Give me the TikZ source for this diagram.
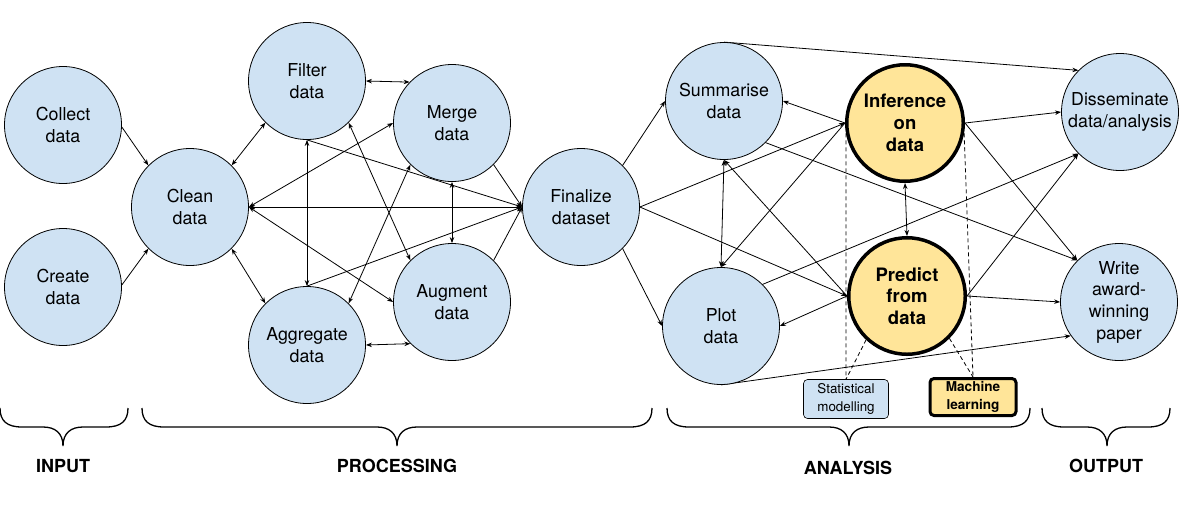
\documentclass[tikz,border=0pt]{standalone}
\usepackage{fontspec}
\setmainfont{TeX Gyre Heros}
\usetikzlibrary{arrows.meta,backgrounds}
\definecolor{nodeblue}{HTML}{CFE2F3}
\definecolor{nodeyellow}{HTML}{FFE599}
\newcommand\mybrace[3]{\draw[brc] (#1,408) .. controls (#1,421) and ({#1+7},427) .. ({#1+22},427) -- ({#2-20},427) .. controls ({#2-8},427) and (#2,433) .. (#2,446) .. controls (#2,433) and ({#2+8},427) .. ({#2+20},427) -- ({#3-22},427) .. controls ({#3-7},427) and (#3,421) .. (#3,408);}
\begin{document}
\begin{tikzpicture}[x=1pt,y=-1pt,
  >={Stealth[length=6pt,width=4.5pt]},
  bcirc/.style={circle, draw=black, line width=0.8pt, fill=nodeblue, minimum size=117pt, inner sep=0pt, align=center, font=\fontsize{17.8}{21.7}\selectfont},
  ycirc/.style={circle, draw=black, line width=3.5pt, fill=nodeyellow, minimum size=116.5pt, inner sep=0pt, align=center, font=\fontsize{18.5}{21.7}\selectfont\bfseries},
  sbox/.style={rectangle, rounded corners=4pt, draw=black, line width=0.6pt, fill=nodeblue, minimum width=85pt, minimum height=39pt, inner sep=0pt, align=center, font=\fontsize{13.4}{17.5}\selectfont},
  mbox/.style={rectangle, rounded corners=4pt, draw=black, line width=3pt, fill=nodeyellow, minimum width=86pt, minimum height=37pt, inner sep=0pt, align=center, font=\fontsize{13.6}{17.5}\selectfont\bfseries},
  conn/.style={line width=0.8pt},
  dconn/.style={line width=0.8pt, dash pattern=on 4pt off 3pt},
  brc/.style={line width=1.3pt},
  lbl/.style={font=\fontsize{18}{21}\selectfont\bfseries, inner sep=0pt}
]
\useasboundingbox (0,0) rectangle (1182,512);

\node[bcirc] (collect) at (63,125) {Collect\\data};
\node[bcirc] (create) at (63,287) {Create\\data};
\node[bcirc] (clean) at (190,207) {Clean\\data};
\node[bcirc] (filter) at (307,81) {Filter\\data};
\node[bcirc] (merge) at (452,123) {Merge\\data};
\node[bcirc] (agg) at (307,345) {Aggregate\\data};
\node[bcirc] (aug) at (452,302) {Augment\\data};
\node[bcirc] (final) at (581,207) {Finalize\\dataset};
\node[bcirc] (summ) at (724,101) {Summarise\\data};
\node[bcirc] (plot) at (721,326) {Plot\\data};
\node[ycirc] (inf) at (905,123) {Inference\\on\\data};
\node[ycirc] (pred) at (907,296) {Predict\\from\\data};
\node[bcirc] (diss) at (1120,112) {Disseminate\\data/analysis};
\node[bcirc] (write) at (1119,302) {Write\\award-\\winning\\paper};
\node[sbox] (stat) at (846,399) {Statistical\\modelling};
\node[mbox] (ml) at (973,397) {Machine\\learning};

\begin{scope}[on background layer]
\draw[conn,->] (collect.-2) -- (clean.135);
\draw[conn,->] (create.2) -- (clean.225);
\draw[conn,<->] (clean.45) -- (filter.225);
\draw[conn,<->] (clean.-45) -- (agg.135);
\draw[conn,<->] (clean.east) -- (merge.west);
\draw[conn,<->] (clean.east) -- (final.west);
\draw[conn,<->] (clean.east) -- (aug.west);
\draw[conn,<->] (filter.east) -- (merge.136);
\draw[conn,<->] (filter.south) -- (agg.north);
\draw[conn,<->] (filter.-45) -- (aug.135);
\draw[conn,->] (filter.south) -- (final.west);
\draw[conn,<->] (merge.225) -- (agg.45);
\draw[conn,<->] (merge.south) -- (aug.north);
\draw[conn,->] (merge.-45) -- (final.west);
\draw[conn,->] (agg.north) -- (final.west);
\draw[conn,<->] (agg.east) -- (aug.225);
\draw[conn,->] (aug.45) -- (final.west);
\draw[conn,->] (final.45) -- (summ.west);
\draw[conn,->] (final.-45) -- (plot.west);
\draw[conn,->] (final.east) -- (inf.west);
\draw[conn,->] (final.east) -- (pred.west);
\draw[conn,<->] (summ.south) -- (plot.north);
\draw[conn,->] (inf.west) -- (summ.east);
\draw[conn,->] (inf.west) -- (plot.north);
\draw[conn,->] (pred.west) -- (summ.south);
\draw[conn,->] (pred.west) -- (plot.east);
\draw[conn,->] (plot.45) -- (diss.225);
\draw[conn,->] (summ.north) -- (diss.135);
\draw[conn,->] (summ.-45) -- (write.135);
\draw[conn,->] (inf.east) -- (diss.west);
\draw[conn,->] (inf.east) -- (write.135);
\draw[conn,->] (pred.east) -- (diss.225);
\draw[conn,->] (pred.east) -- (write.west);
\draw[conn,->] (plot.south) -- (write.215);
\draw[conn,<->] (inf.south) -- (pred.north);
\draw[dconn] (inf.190) -- (stat.north);
\draw[dconn] (inf.-10) -- (ml.north);
\draw[dconn] (pred.-133) -- (stat.north);
\draw[dconn] (pred.-45) -- (ml.north);
\end{scope}

\mybrace{0}{63}{128}
\mybrace{142}{397}{652}
\mybrace{667}{849}{1030}
\mybrace{1042}{1107}{1170}

\node[lbl] (linput) at (63,466) {INPUT};
\node[lbl] (lproc) at (397,466) {PROCESSING};
\node[lbl] (lana) at (848,468) {ANALYSIS};
\node[lbl] (lout) at (1106,466) {OUTPUT};
\end{tikzpicture}
\end{document}
